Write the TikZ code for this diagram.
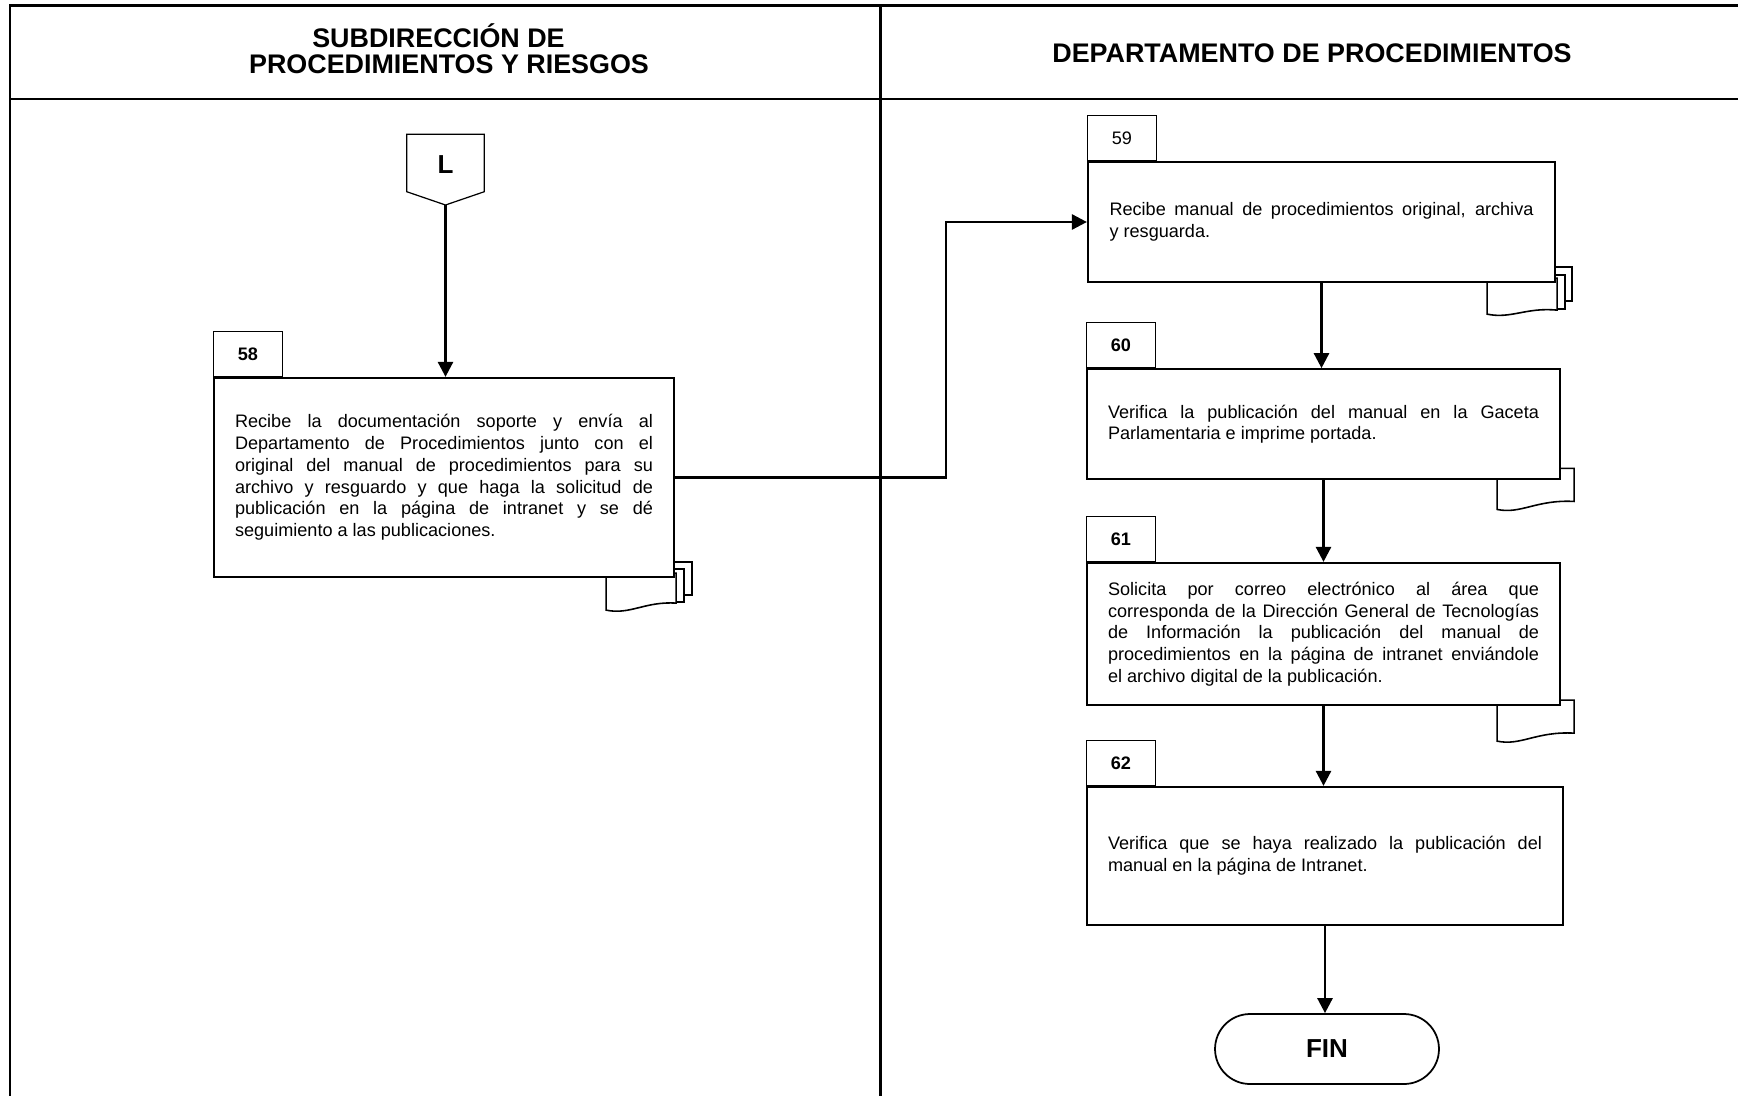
\documentclass[tikz,border=0pt]{standalone}
\usepackage{fontspec}
\setmainfont{Liberation Sans}
\usetikzlibrary{arrows.meta,positioning,backgrounds}
\tolerance=9999
\hyphenpenalty=10000

\tikzset{
  paso/.style={draw, line width=1.3pt, fill=white, inner sep=0pt, align=justify,
    font=\fontsize{10.3}{12.4}\selectfont},
  numtab/.style={draw, line width=0.6pt, fill=white, inner sep=0pt,
    minimum width=1.38cm, minimum height=0.9cm, font=\fontsize{10.3}{12.4}\selectfont},
  flecha/.style={line width=1.5pt, -{Triangle[length=3mm,width=3mm]}},
  hoja/.style={draw, line width=0.9pt, fill=white},
  titulo/.style={align=center, font=\fontsize{15.3}{14.8}\selectfont\bfseries},
  grande/.style={font=\fontsize{14.8}{16}\selectfont\bfseries}
}

\begin{document}
\begin{tikzpicture}[x=0.02cm, y=-0.02cm]
    \useasboundingbox (0,0) rectangle (1738,1096);
    % Frame
    \draw[line width=1.7pt] (10.3,5.3) -- (1738,5.3);
    \draw[line width=1.7pt] (10.3,99) -- (1738,99);
    \draw[line width=1.3pt] (10.3,4) -- (10.3,1096);
    \draw[line width=1.3pt] (880.5,4) -- (880.5,1096);
    \node[titulo] (h1) at (449,48.5) {SUBDIRECCIÓN DE\hspace*{0.42cm}\\PROCEDIMIENTOS Y RIESGOS};
    \node[titulo] (h2) at (1312,53) {DEPARTAMENTO DE PROCEDIMIENTOS};

    % Connector L
    \draw[line width=0.7pt] (406.7,134.3) -- (484.3,134.3) -- (484.3,191.7)
        -- (445.5,205) -- (406.7,191.7) -- cycle;
    \node[grande] (L) at (445.5,165) {L};
    \coordinate (Lsal) at (445.5,205);

    % Steps
    \node[paso, text width=8.36cm, minimum width=9.2cm, minimum height=3.98cm]
        (b58) at (444,477.5) {Recibe la documentación soporte y envía al\linebreak
        Departamento de Procedimientos junto con el\linebreak
        original del manual de procedimientos para su\linebreak
        archivo y resguardo y que haga la solicitud de\linebreak
        publicación en la página de intranet y se dé\linebreak
        seguimiento a las publicaciones.};
    \node[paso, text width=8.48cm, minimum width=9.34cm, minimum height=2.4cm]
        (b59) at (1321.5,222) {Recibe manual de procedimientos original, archiva\linebreak
        y resguarda.};
    \node[paso, text width=8.62cm, minimum width=9.46cm, minimum height=2.2cm]
        (b60) at (1323.5,424.3) {Verifica la publicación del manual en la Gaceta\linebreak
        Parlamentaria e imprime portada.};
    \node[paso, text width=8.62cm, minimum width=9.46cm, minimum height=2.84cm]
        (b61) at (1323.5,634) {Solicita por correo electrónico al área que\linebreak
        corresponda de la Dirección General de Tecnologías\linebreak
        de Información la publicación del manual de\linebreak
        procedimientos en la página de intranet enviándole\linebreak
        el archivo digital de la publicación.};
    \node[paso, text width=8.68cm, minimum width=9.52cm, minimum height=2.76cm]
        (b62) at (1325,856) {Verifica que se haya realizado la publicación del\linebreak
        manual en la página de Intranet.};
    \node[grande, draw, line width=1pt, rounded corners=0.7cm,
        minimum width=4.48cm, minimum height=1.4cm] (fin) at (1327,1049) {FIN};

    % Number tabs
    \node[numtab, above right=0pt of b58.north west] (t58) {\textbf{58}};
    \node[numtab, above right=0pt of b59.north west] (t59) {59};
    \node[numtab, above right=0pt of b60.north west] (t60) {\textbf{60}};
    \node[numtab, above right=0pt of b61.north west] (t61) {\textbf{61}};
    \node[numtab, above right=0pt of b62.north west] (t62) {\textbf{62}};

    % Documents
    \begin{scope}[on background layer]
      \begin{scope}[shift={(b58.south east)}]
        \draw[hoja] (-53,-16) rectangle (17,17);
        \draw[hoja] (-61,-9) rectangle (9,24);
        \draw[hoja] (-69,-5) -- (-69,32) .. controls (-45,37) and (-30,23) .. (1,25)
            -- (1,-5) -- cycle;
      \end{scope}
      \begin{scope}[shift={(b59.south east)}]
        \draw[hoja] (-53,-16) rectangle (16,18);
        \draw[hoja] (-61,-8) rectangle (9,26);
        \draw[hoja] (-69,-5) -- (-69,31) .. controls (-45,36) and (-30,24) .. (1,27)
            -- (1,-5) -- cycle;
      \end{scope}
      \begin{scope}[shift={(b60.south east)}]
        \draw[hoja] (-64,-12) -- (-64,29) .. controls (-40,34) and (-25,19) .. (13,21)
            -- (13,-12) -- cycle;
      \end{scope}
      \begin{scope}[shift={(b61.south east)}]
        \draw[hoja] (-64,-6) -- (-64,35) .. controls (-40,40) and (-25,25) .. (13,27)
            -- (13,-6) -- cycle;
      \end{scope}
    \end{scope}

    % Arrows
    \draw[flecha] (Lsal) -- (Lsal |- b58.north);
    \draw[flecha] (b58.east) -- ++(271,0) |- (b59.west);
    \draw[flecha] (b59.south) -- (b59.south |- b60.north);
    \draw[flecha] (b60.south) -- (b60.south |- b61.north);
    \draw[flecha] (b61.south) -- (b61.south |- b62.north);
    \draw[flecha] (b62.south) -- (b62.south |- fin.north);
\end{tikzpicture}
\end{document}
